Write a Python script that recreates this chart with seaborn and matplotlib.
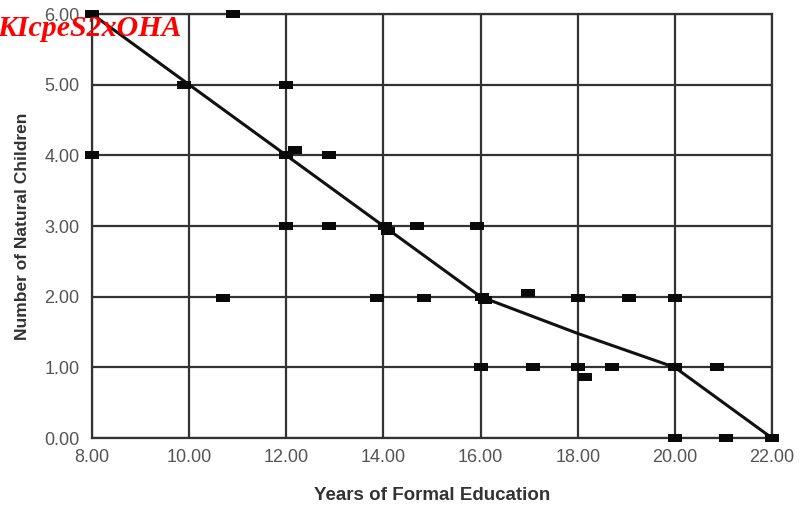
import matplotlib
matplotlib.use("Agg")
import matplotlib.pyplot as plt
import seaborn as sns
import pandas as pd

# Observed points
education = [8.0, 8.0, 9.9, 10.9, 10.7, 12.0, 12.0, 12.18, 12.88, 12.0, 12.88,
             14.03, 14.1, 14.7, 15.93, 13.87, 14.83, 16.03, 16.1, 16.98, 18.0,
             19.05, 20.0, 16.0, 17.08, 18.0, 18.15, 18.7, 20.0, 20.87, 20.0,
             21.05, 22.0]
children = [6.0, 4.0, 5.0, 6.0, 1.98, 5.0, 4.0, 4.07, 4.0, 3.0, 3.0,
            3.0, 2.93, 3.0, 3.0, 1.98, 1.98, 2.0, 1.95, 2.05, 1.98,
            1.98, 1.98, 1.0, 1.0, 1.0, 0.87, 1.0, 1.0, 1.0, 0.0,
            0.0, 0.0]

# Fitted line
line_x = [8.0, 10.0, 12.0, 14.0, 16.0, 18.0, 20.0, 22.0]
line_y = [6.0, 5.0, 4.0, 3.0, 2.0, 1.48, 1.0, 0.0]

x_ticks = [8, 10, 12, 14, 16, 18, 20, 22]
y_ticks = [0, 1, 2, 3, 4, 5, 6]

sns.set_theme(style="white")
plt.rcParams['font.family'] = ['Liberation Sans', 'DejaVu Sans']

fig = plt.figure(figsize=(8.07, 5.31), dpi=100)
ax = fig.add_axes([0.114, 0.1751, 0.8426, 0.7985])

pts = pd.DataFrame({"edu": education, "kids": children})
lin = pd.DataFrame({"edu": line_x, "kids": line_y})

rect = [(-1, -0.62), (1, -0.62), (1, 0.62), (-1, 0.62), (-1, -0.62)]
sns.lineplot(data=lin, x="edu", y="kids", ax=ax, color="#111111", linewidth=2.2,
             zorder=3)
sns.scatterplot(data=pts, x="edu", y="kids", ax=ax, marker=rect, s=95,
                color="#0a0a0a", edgecolor="#0a0a0a", linewidth=0, zorder=4,
                clip_on=False)

ax.set_xlim(8, 22)
ax.set_ylim(0, 6)
ax.set_xticks(x_ticks)
ax.set_yticks(y_ticks)
ax.set_xticklabels([f"{v:.2f}" for v in x_ticks], fontsize=13, color="#555555")
ax.set_yticklabels([f"{v:.2f}" for v in y_ticks], fontsize=13, color="#555555")
ax.tick_params(axis="x", length=0, pad=8)
ax.tick_params(axis="y", length=0, pad=9)
ax.grid(True, color="#333333", linewidth=1.6)
ax.set_axisbelow(True)
for s in ax.spines.values():
    s.set_color("#333333")
    s.set_linewidth(1.6)

ax.set_xlabel("Years of Formal Education", fontsize=13.5, fontweight="bold",
              color="#333333", labelpad=15)
ax.set_ylabel("Number of Natural Children", fontsize=12.5, fontweight="bold",
              color="#333333", labelpad=10)

fig.text(-0.003, 0.947, "KIcpeS2xOHA", color="red", fontsize=21.5,
         fontweight="bold", fontstyle="italic", family=["Liberation Serif"],
         va="center", ha="left", zorder=10)

fig.savefig("out.png", dpi=100)
